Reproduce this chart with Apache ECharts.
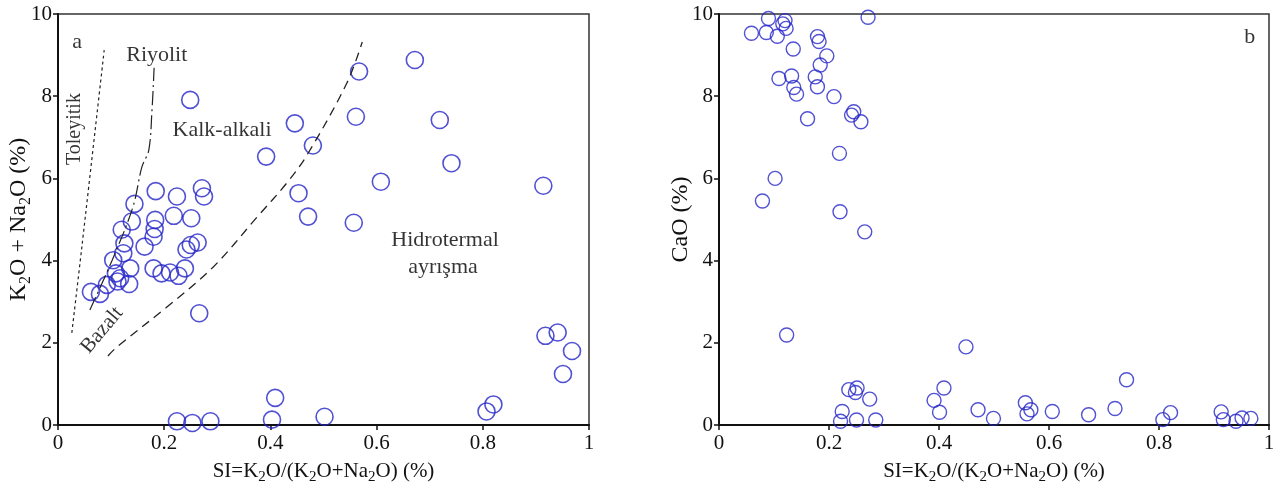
<!DOCTYPE html>
<html>
<head>
<meta charset="utf-8">
<script src="https://cdn.jsdelivr.net/npm/echarts@6/dist/echarts.min.js"></script>
<style>html,body{margin:0;padding:0;background:#fff;}#c{width:1285px;height:497px;}</style>
</head>
<body>
<div id="c"></div>
<script>
// ---- Data: panel a (SI vs K2O+Na2O) ----
const siA = [0.249,0.446,0.392,0.480,0.453,0.471,0.567,0.672,0.561,0.719,0.741,0.608,0.914,0.557,
  0.144,0.184,0.224,0.271,0.275,0.218,0.251,0.183,0.139,0.182,0.120,
  0.180,0.163,0.125,0.263,0.250,0.242,0.123,0.104,
  0.136,0.180,0.239,0.195,0.211,0.227,0.109,0.117,0.112,0.134,0.092,0.079,0.062,0.266,
  0.224,0.253,0.287,0.403,0.409,0.502,0.807,0.820,
  0.918,0.941,0.968,0.951];
const alkA = [7.91,7.34,6.53,6.80,5.64,5.07,8.60,8.88,7.50,7.42,6.37,5.92,5.82,4.92,
  5.38,5.69,5.56,5.76,5.56,5.09,5.03,4.99,4.95,4.77,4.75,
  4.58,4.34,4.42,4.44,4.38,4.27,4.18,4.01,
  3.81,3.81,3.81,3.69,3.71,3.63,3.69,3.57,3.49,3.43,3.41,3.19,3.24,2.72,
  0.09,0.05,0.09,0.13,0.66,0.20,0.33,0.50,
  2.17,2.25,1.80,1.24];

// ---- Data: panel b (SI vs CaO) ----
const siB = [0.090,0.271,0.059,0.086,0.106,0.120,0.116,0.122,0.135,0.179,0.182,0.196,0.184,0.109,0.132,0.175,0.179,0.136,0.141,0.209,0.161,0.245,0.241,0.258,
  0.219,0.102,0.079,0.220,0.265,0.123,
  0.449,0.741,0.409,0.236,0.251,0.248,0.274,0.391,0.224,0.221,0.250,0.285,0.401,0.471,0.499,0.557,0.560,0.567,0.606,0.672,0.720,0.807,0.821,0.913,0.917,0.940,0.951,0.967];
const caoB = [9.89,9.92,9.53,9.55,9.46,9.84,9.76,9.65,9.15,9.45,9.33,8.98,8.76,8.43,8.49,8.47,8.23,8.21,8.05,7.99,7.45,7.62,7.54,7.38,
  6.61,6.00,5.45,5.19,4.70,2.19,
  1.90,1.10,0.90,0.86,0.90,0.79,0.63,0.60,0.33,0.09,0.12,0.12,0.31,0.37,0.16,0.54,0.27,0.37,0.33,0.25,0.40,0.13,0.30,0.32,0.13,0.09,0.17,0.16];

// ---- Boundary curves (panel a) ----
const toleyitikX = [0.026,0.045,0.087];
const toleyitikY = [2.24,4.34,9.12];
const riyolitX = [0.060,0.102,0.141,0.158,0.171,0.177,0.181];
const riyolitY = [2.80,4.01,5.30,6.28,6.69,7.66,8.69];
const hidroX = [0.094,0.111,0.205,0.292,0.375,0.431,0.469,0.544,0.573];
const hidroY = [1.68,1.90,2.87,3.84,5.06,5.89,6.57,8.32,9.32];

// ---- Annotations ----
const annotA = [
  {text:'a', x:0.036, y:9.31, rot:0, size:22},
  {text:'Riyolit', x:0.186, y:8.99, rot:0, size:22},
  {text:'Toleyitik', x:0.032, y:7.20, rot:90, size:20},
  {text:'Kalk-alkali', x:0.309, y:7.18, rot:0, size:22},
  {text:'Bazalt', x:0.083, y:2.31, rot:50, size:21},
  {text:'Hidrotermal', x:0.729, y:4.50, rot:0, size:22},
  {text:'ayrışma', x:0.725, y:3.84, rot:0, size:22}
];
const annotB = [{text:'b', x:0.965, y:9.44, rot:0, size:22}];

const xTicks = [0,0.2,0.4,0.6,0.8,1];
const yTicks = [0,2,4,6,8,10];

const FONT = 'Liberation Serif';
const BLUE = '#2626c8';
const TXT = '#111';
const zip = (a,b)=>a.map((v,i)=>[v,b[i]]);

function xAxisCfg(gi){
  return {
    type:'value', gridIndex:gi, min:0, max:1, interval:0.2,
    name:'SI=K{s|2}O/(K{s|2}O+Na{s|2}O) (%)', nameLocation:'middle', nameGap:33, nameMoveOverlap:false,
    nameTextStyle:{fontFamily:FONT, fontSize:21, color:TXT, rich:{s:{fontFamily:FONT,fontSize:15,color:TXT,padding:[12,0,0,0]}}},
    axisLine:{show:true, onZero:false, lineStyle:{color:'#111', width:2}},
    axisTick:{show:true, inside:false, length:5, lineStyle:{color:'#111', width:1.5}},
    axisLabel:{fontFamily:FONT, fontSize:21, color:TXT, margin:8,
      formatter:v=>{const t=xTicks.find(k=>Math.abs(k-v)<1e-9); return t===undefined?'':String(t);}},
    splitLine:{show:false}
  };
}
function yAxisCfg(gi,name,rich,gap){
  return {
    type:'value', gridIndex:gi, min:0, max:10, interval:2,
    name:name, nameLocation:'middle', nameGap:gap, nameMoveOverlap:false,
    nameTextStyle:{fontFamily:FONT, fontSize:24, color:TXT, rich:rich},
    axisLine:{show:true, onZero:false, lineStyle:{color:'#111', width:2}},
    axisTick:{show:true, inside:false, length:5, lineStyle:{color:'#111', width:1.5}},
    axisLabel:{fontFamily:FONT, fontSize:21, color:TXT, margin:6,
      formatter:v=>{const t=yTicks.find(k=>Math.abs(k-v)<1e-9); return t===undefined?'':String(t);}},
    splitLine:{show:false}
  };
}
function annSeries(arr,xi,yi){
  return {
    type:'scatter', xAxisIndex:xi, yAxisIndex:yi, symbolSize:0, silent:true, z:5,
    data:arr.map(a=>({value:[a.x,a.y], name:a.text, label:{rotate:a.rot, fontSize:a.size}})),
    label:{show:true, position:'inside', formatter:p=>p.name, fontFamily:FONT, fontSize:22, color:'#000', align:'center', verticalAlign:'middle'}
  };
}
function lineSeries(xs,ys,dash,w){
  return {
    type:'line', xAxisIndex:0, yAxisIndex:0, data:zip(xs,ys), symbol:'none', smooth:0.35, silent:true,
    lineStyle:{color:'#222', width:w, type:dash}
  };
}

const chart = echarts.init(document.getElementById('c'), null, {renderer:'canvas'});
chart.setOption({
  animation:false,
  backgroundColor:'#fff',
  grid:[
    {left:58, right:696, top:14, bottom:72, show:true, borderColor:'#333', borderWidth:1.5, backgroundColor:'transparent'},
    {left:719, right:16, top:14, bottom:72, show:true, borderColor:'#333', borderWidth:1.5, backgroundColor:'transparent'}
  ],
  xAxis:[xAxisCfg(0), xAxisCfg(1)],
  yAxis:[
    yAxisCfg(0,'K{s|2}O + Na{s|2}O (%)',{s:{fontFamily:FONT,fontSize:16,color:TXT,padding:[14,0,0,0]}},24),
    yAxisCfg(1,'CaO (%)',{},26)
  ],
  series:[
    lineSeries(toleyitikX,toleyitikY,[3,3],1.2),
    lineSeries(riyolitX,riyolitY,[14,4,2,4],1.2),
    lineSeries(hidroX,hidroY,[9,6],1.3),
    {type:'scatter', xAxisIndex:0, yAxisIndex:0, data:zip(siA,alkA), symbol:'circle', symbolSize:17,
      itemStyle:{color:'rgba(0,0,0,0)', borderColor:BLUE, borderWidth:1.6}},
    {type:'scatter', xAxisIndex:1, yAxisIndex:1, data:zip(siB,caoB), symbol:'circle', symbolSize:14,
      itemStyle:{color:'rgba(0,0,0,0)', borderColor:BLUE, borderWidth:1.4}},
    annSeries(annotA,0,0),
    annSeries(annotB,1,1)
  ]
});
</script>
</body>
</html>
